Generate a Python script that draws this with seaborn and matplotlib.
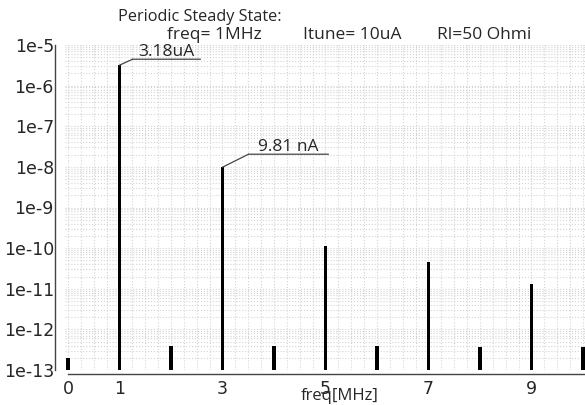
import numpy as np
import pandas as pd
import matplotlib
matplotlib.use("Agg")
import matplotlib.pyplot as plt
import matplotlib.ticker as mticker
from matplotlib.transforms import offset_copy
import seaborn as sns

# harmonic spectrum
freq_mhz = [0, 1, 2, 3, 4, 5, 6, 7, 8, 9, 10]
current_a = [2.0e-13, 3.18e-6, 3.9e-13, 9.81e-9, 3.9e-13, 1.1e-10,
             3.9e-13, 4.6e-11, 3.6e-13, 1.3e-11, 3.6e-13]
x_labels = [0, 1, 3, 5, 7, 9]
notes = [(1, 3.18e-6, "3.18uA"), (3, 9.81e-9, "9.81 nA")]
floor = 1e-13

df = pd.DataFrame({"freq": freq_mhz, "i": current_a})

sns.set_style("white")
plt.rcParams["font.family"] = ["DejaVu Sans"]

fig = plt.figure(figsize=(5.85, 4.05), dpi=100)
ax = fig.add_axes([65 / 585, 1 - 370 / 405, 1 - 65 / 585, (370 - 45) / 405])

sns.barplot(data=df, x="freq", y="i", native_scale=True,
            width=0.075, color="black", saturation=1, linewidth=0, ax=ax)
# start the bars at the bottom of the log axis instead of zero
for p in ax.patches:
    h = p.get_height()
    p.set_y(floor)
    p.set_height(h - floor)
ax.set_yscale("log")

ax.set_ylim(floor, 1e-5)
ax.set_xlim(-0.058, 10.04)

ax.yaxis.set_major_locator(mticker.LogLocator(base=10, numticks=20))
ax.yaxis.set_minor_locator(mticker.LogLocator(base=10, subs=np.arange(2, 10), numticks=20))
ax.yaxis.set_major_formatter(mticker.FuncFormatter(lambda v, p: "1e%d" % round(np.log10(v))))
ax.yaxis.set_minor_formatter(mticker.NullFormatter())

ax.xaxis.set_major_locator(mticker.FixedLocator(range(0, 11)))
ax.xaxis.set_major_formatter(mticker.FuncFormatter(lambda v, p: str(int(round(v))) if int(round(v)) in x_labels else ""))
ax.xaxis.set_minor_locator(mticker.MultipleLocator(0.25))
ax.xaxis.set_minor_formatter(mticker.NullFormatter())

ax.grid(True, which="both", color="#d4d4d4", linestyle=":", linewidth=0.8)
ax.set_axisbelow(True)

for s in ["top", "right"]:
    ax.spines[s].set_visible(False)
ax.spines["left"].set_position(("outward", 7))
ax.spines["bottom"].set_position(("outward", 3))
ax.spines["bottom"].set_bounds(0, 10.04)
for s in ["left", "bottom"]:
    ax.spines[s].set_color("#444444")
    ax.spines[s].set_linewidth(1.0)

ax.tick_params(axis="y", which="major", direction="in", length=6, width=1, labelsize=12.5, pad=1, color="#444444")
ax.tick_params(axis="y", which="minor", direction="in", length=3.5, width=0.8, color="#444444")
ax.tick_params(axis="x", which="major", direction="out", length=4, width=1, labelsize=12.5, pad=0, color="#444444")
ax.tick_params(axis="x", which="minor", direction="out", length=2.5, width=0.8, color="#444444")

ax.set_ylabel("")
ax.set_xlabel("freq[MHz]", fontsize=12, family="Open Sans", va="center")
ax.xaxis.set_label_coords((340 - 65) / 520, -(396 - 370) / 325)

# leader + underlined labels
for (fx, fy, txt), (dx, dy, w) in zip(notes, [(13, 6, 68), (26, 13, 80)]):
    p0 = offset_copy(ax.transData, fig=fig, x=0, y=0, units="dots")
    p1 = offset_copy(ax.transData, fig=fig, x=dx, y=dy, units="dots")
    p2 = offset_copy(ax.transData, fig=fig, x=dx + w, y=dy, units="dots")
    ax.annotate("", xy=(fx, fy), xycoords=p0, xytext=(fx, fy), textcoords=p1,
                arrowprops=dict(arrowstyle="-", color="#444444", lw=0.9, shrinkA=0, shrinkB=0),
                annotation_clip=False)
    ax.annotate("", xy=(fx, fy), xycoords=p1, xytext=(fx, fy), textcoords=p2,
                arrowprops=dict(arrowstyle="-", color="#444444", lw=0.9, shrinkA=0, shrinkB=0),
                annotation_clip=False)
    ax.annotate(txt, xy=(fx, fy), xycoords=offset_copy(ax.transData, fig=fig, x=dx + w / 2, y=dy + 3, units="dots"),
                ha="center", va="baseline", fontsize=12.5, family="Open Sans", annotation_clip=False)

fig.text(118 / 585, 1 - 17 / 405, "Periodic Steady State:", fontsize=11.7, family="Open Sans", va="center")
for xpos, part in [(167, "freq= 1MHz"), (303, "Itune= 10uA"), (437, "Rl=50 Ohmi")]:
    fig.text(xpos / 585, 1 - 35 / 405, part, fontsize=12.5, family="Open Sans", va="center")

fig.savefig("out.png", dpi=100)
